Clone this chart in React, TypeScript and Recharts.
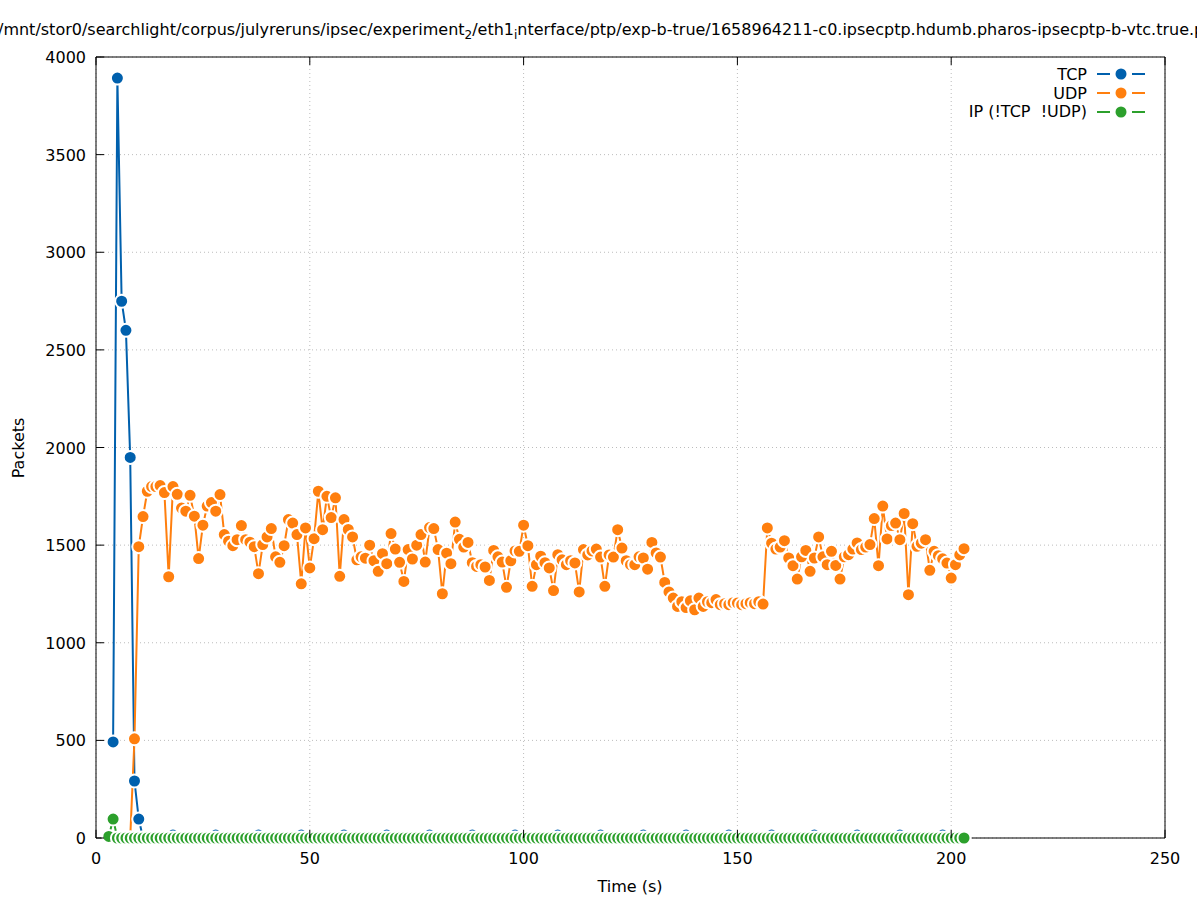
import React from 'react'
import { LineChart, Line, XAxis, YAxis, CartesianGrid } from 'recharts'

const FONT = '"DejaVu Sans", sans-serif'

// Packets per second. Each list starts at its own first second and runs to LAST_SECOND.
const LAST_SECOND = 203

const TCP_FIRST = 4
const TCP = [
  492, 3892, 2749, 2600, 1949, 292, 97,
  0, 0, 0, 0, 0, 0, 0,
  15, 0, 0, 0, 0, 0, 0, 0, 0, 0,
  15, 0, 0, 0, 0, 0, 0, 0, 0, 0,
  15, 0, 0, 0, 0, 0, 0, 0, 0, 0,
  15, 0, 0, 0, 0, 0, 0, 0, 0, 0,
  15, 0, 0, 0, 0, 0, 0, 0, 0, 0,
  15, 0, 0, 0, 0, 0, 0, 0, 0, 0,
  15, 0, 0, 0, 0, 0, 0, 0, 0, 0,
  15, 0, 0, 0, 0, 0, 0, 0, 0, 0,
  15, 0, 0, 0, 0, 0, 0, 0, 0, 0,
  15, 0, 0, 0, 0, 0, 0, 0, 0, 0,
  15, 0, 0, 0, 0, 0, 0, 0, 0, 0,
  15, 0, 0, 0, 0, 0, 0, 0, 0, 0,
  15, 0, 0, 0, 0, 0, 0, 0, 0, 0,
  15, 0, 0, 0, 0, 0, 0, 0, 0, 0,
  15, 0, 0, 0, 0, 0, 0, 0, 0, 0,
  15, 0, 0, 0, 0, 0, 0, 0, 0, 0,
  15, 0, 0, 0, 0, 0, 0, 0, 0, 0,
  15, 0, 0, 0, 0, 0, 0, 0, 0, 0,
  15, 0, 0, 0, 0, 0,
]

const UDP_FIRST = 8
const UDP = [
  0, 508, 1492, 1646, 1776, 1800, 1800, 1805, 1769, 1338,
  1800, 1760, 1690, 1674, 1755, 1648, 1431, 1602, 1700, 1718,
  1674, 1759, 1554, 1520, 1497, 1528, 1600, 1528, 1515, 1492,
  1354, 1503, 1542, 1585, 1440, 1412, 1497, 1631, 1613, 1554,
  1302, 1588, 1383, 1533, 1776, 1579, 1750, 1641, 1742, 1340,
  1631, 1580, 1542, 1425, 1440, 1433, 1500, 1420, 1366, 1456,
  1405, 1559, 1480, 1412, 1314, 1477, 1429, 1500, 1554, 1413,
  1590, 1585, 1477, 1251, 1459, 1405, 1618, 1530, 1490, 1514,
  1410, 1391, 1400, 1388, 1319, 1473, 1440, 1413, 1284, 1420,
  1470, 1468, 1602, 1497, 1289, 1400, 1443, 1410, 1383, 1267,
  1451, 1425, 1400, 1420, 1409, 1260, 1477, 1450, 1470, 1480,
  1439, 1289, 1450, 1439, 1579, 1485, 1420, 1400, 1400, 1440,
  1434, 1377, 1514, 1460, 1439, 1309, 1260, 1229, 1186, 1210,
  1180, 1215, 1169, 1229, 1186, 1210, 1205, 1221, 1195, 1200,
  1195, 1205, 1203, 1195, 1200, 1205, 1200, 1210, 1198, 1588,
  1510, 1480, 1490, 1523, 1434, 1395, 1326, 1440, 1473, 1366,
  1434, 1542, 1440, 1400, 1468, 1396, 1326, 1440, 1451, 1480,
  1511, 1477, 1490, 1503, 1636, 1395, 1700, 1532, 1600, 1613,
  1528, 1662, 1246, 1610, 1494, 1510, 1528, 1371, 1468, 1446,
  1430, 1408, 1331, 1400, 1450, 1482,
]

const IP_FIRST = 3
const IP = [
  8, 97,
  0, 0, 0, 0, 0, 0, 0, 0, 0, 0,
  0, 0, 0, 0, 0, 0, 0, 0, 0, 0,
  0, 0, 0, 0, 0, 0, 0, 0, 0, 0,
  0, 0, 0, 0, 0, 0, 0, 0, 0, 0,
  0, 0, 0, 0, 0, 0, 0, 0, 0, 0,
  0, 0, 0, 0, 0, 0, 0, 0, 0, 0,
  0, 0, 0, 0, 0, 0, 0, 0, 0, 0,
  0, 0, 0, 0, 0, 0, 0, 0, 0, 0,
  0, 0, 0, 0, 0, 0, 0, 0, 0, 0,
  0, 0, 0, 0, 0, 0, 0, 0, 0, 0,
  0, 0, 0, 0, 0, 0, 0, 0, 0, 0,
  0, 0, 0, 0, 0, 0, 0, 0, 0, 0,
  0, 0, 0, 0, 0, 0, 0, 0, 0, 0,
  0, 0, 0, 0, 0, 0, 0, 0, 0, 0,
  0, 0, 0, 0, 0, 0, 0, 0, 0, 0,
  0, 0, 0, 0, 0, 0, 0, 0, 0, 0,
  0, 0, 0, 0, 0, 0, 0, 0, 0, 0,
  0, 0, 0, 0, 0, 0, 0, 0, 0, 0,
  0, 0, 0, 0, 0, 0, 0, 0, 0, 0,
  0, 0, 0, 0, 0, 0, 0, 0, 0,
]

const X_TICKS = [0, 50, 100, 150, 200, 250]
const Y_TICKS = [0, 500, 1000, 1500, 2000, 2500, 3000, 3500, 4000]

const SERIES = [
  { key: 'tcp', name: 'TCP', color: '#0060ad' },
  { key: 'udp', name: 'UDP', color: '#ff7f0e' },
  { key: 'ip', name: 'IP (!TCP  !UDP)', color: '#2ca02c' },
]

function pick(list: number[], first: number, s: number) {
  const v = list[s - first]
  return v === undefined ? null : v
}

const rows: Array<Record<string, number | null>> = []
for (let s = IP_FIRST; s <= LAST_SECOND; s++) {
  rows.push({
    t: s,
    tcp: pick(TCP, TCP_FIRST, s),
    udp: pick(UDP, UDP_FIRST, s),
    ip: pick(IP, IP_FIRST, s),
  })
}

const TICK_LEN = 8

// gnuplot style: ticks point into the plot, mirrored on top/right
function BottomTick({ x, y, payload }: any) {
  return (
    <g>
      <line x1={x} y1={y} x2={x} y2={y - TICK_LEN} stroke="#000" />
      <text x={x} y={y + 26} textAnchor="middle" fontSize={16} fontFamily={FONT} fill="#000">
        {payload.value}
      </text>
    </g>
  )
}

function TopTick({ x, y }: any) {
  return <line x1={x} y1={y} x2={x} y2={y + TICK_LEN} stroke="#000" />
}

function LeftTick({ x, y, payload }: any) {
  return (
    <g>
      <line x1={x} y1={y} x2={x + TICK_LEN} y2={y} stroke="#000" />
      <text x={x - 10} y={y + 6} textAnchor="end" fontSize={16} fontFamily={FONT} fill="#000">
        {payload.value}
      </text>
    </g>
  )
}

function RightTick({ x, y }: any) {
  return <line x1={x} y1={y} x2={x - TICK_LEN} y2={y} stroke="#000" />
}

function KeyBox() {
  return (
    <div
      style={{
        position: 'absolute',
        top: 65,
        right: 52,
        fontFamily: FONT,
        fontSize: 16,
        color: '#000',
        pointerEvents: 'none',
      }}
    >
      {SERIES.map((s) => (
        <div
          key={s.key}
          style={{ display: 'flex', alignItems: 'center', justifyContent: 'flex-end', height: 18.7 }}
        >
          <span style={{ whiteSpace: 'pre' }}>{s.name}</span>
          <svg width={48} height={14} style={{ marginLeft: 10 }}>
            <line x1={0} x2={13} y1={7} y2={7} stroke={s.color} strokeWidth={2} />
            <line x1={35} x2={48} y1={7} y2={7} stroke={s.color} strokeWidth={2} />
            <circle cx={24} cy={7} r={5.5} fill={s.color} />
          </svg>
        </div>
      ))}
    </div>
  )
}

export default function App() {
  return (
    <div style={{ position: 'absolute', left: 0, top: 0, width: 1197, height: 900, background: '#fff' }}>
      <LineChart
        width={1197}
        height={900}
        data={rows}
        margin={{ top: 56, right: 31, bottom: 0, left: 0 }}
      >
        <CartesianGrid xAxisId="bottom" yAxisId="left" stroke="#bcbcbc" strokeDasharray="1 3" />
        <XAxis
          xAxisId="bottom"
          dataKey="t"
          type="number"
          domain={[0, 250]}
          ticks={X_TICKS}
          interval={0}
          height={62}
          tickSize={0}
          tickMargin={0}
          tickLine={false}
          axisLine={{ stroke: '#000' }}
          tick={(p: any) => <BottomTick {...p} />}
        />
        <XAxis
          xAxisId="top"
          orientation="top"
          dataKey="t"
          type="number"
          domain={[0, 250]}
          ticks={X_TICKS}
          interval={0}
          height={1}
          tickSize={0}
          tickMargin={0}
          tickLine={false}
          axisLine={{ stroke: '#000' }}
          tick={(p: any) => <TopTick {...p} />}
        />
        <YAxis
          yAxisId="left"
          type="number"
          domain={[0, 4000]}
          ticks={Y_TICKS}
          interval={0}
          width={96}
          tickSize={0}
          tickMargin={0}
          tickLine={false}
          axisLine={{ stroke: '#000' }}
          tick={(p: any) => <LeftTick {...p} />}
        />
        <YAxis
          yAxisId="right"
          orientation="right"
          type="number"
          domain={[0, 4000]}
          ticks={Y_TICKS}
          interval={0}
          width={1}
          tickSize={0}
          tickMargin={0}
          tickLine={false}
          axisLine={{ stroke: '#000' }}
          tick={(p: any) => <RightTick {...p} />}
        />
        {SERIES.map((s) => (
          <Line
            key={s.key}
            xAxisId="bottom"
            yAxisId="left"
            type="linear"
            dataKey={s.key}
            name={s.name}
            stroke={s.color}
            strokeWidth={2}
            dot={{ r: 6.5, fill: s.color, stroke: '#fff', strokeWidth: 2 }}
            activeDot={false}
            isAnimationActive={false}
          />
        ))}
      </LineChart>
      <KeyBox />
      <svg
        width={1197}
        height={900}
        style={{ position: 'absolute', left: 0, top: 0, pointerEvents: 'none' }}
        fontFamily={FONT}
        fontSize={16}
      >
        <text x={-2} y={35} fill="#000">
          /mnt/stor0/searchlight/corpus/julyreruns/ipsec/experiment
          <tspan dy={4} fontSize={12}>2</tspan>
          <tspan dy={-4}>/eth1</tspan>
          <tspan dy={4} fontSize={12}>i</tspan>
          <tspan dy={-4}>nterface/ptp/exp-b-true/1658964211-c0.ipsecptp.hdumb.pharos-ipsecptp-b-vtc.true.pcap</tspan>
        </text>
        <text x={630} y={892} textAnchor="middle" fill="#000">Time (s)</text>
        <text transform="translate(24,448) rotate(-90)" textAnchor="middle" fill="#000">Packets</text>
      </svg>
    </div>
  )
}
